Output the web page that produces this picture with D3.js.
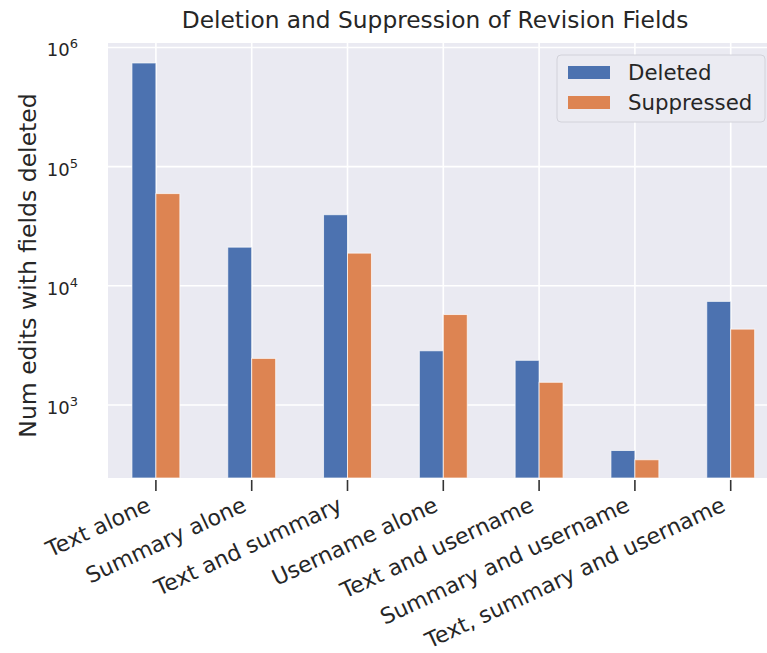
<!DOCTYPE html>
<html><head><meta charset="utf-8">
<script src="https://cdn.jsdelivr.net/npm/d3@7"></script>
<style>
body{margin:0;background:#fff;}
text{font-family:"DejaVu Sans",sans-serif;fill:#262626;}
</style></head>
<body><svg id="c" width="767" height="653"></svg>
<script>
const categories = ["Text alone","Summary alone","Text and summary","Username alone","Text and username","Summary and username","Text, summary and username"];
const seriesNames = ["Deleted","Suppressed"];
const deleted = [741000, 21100, 39500, 2850, 2370, 415, 7400];
const suppressed = [59400, 2460, 18800, 5740, 1550, 347, 4330];
const yTickValues = [1e3, 1e4, 1e5, 1e6];
const yTickExps = ["3","4","5","6"];
const title = "Deletion and Suppression of Revision Fields";
const yLabel = "Num edits with fields deleted";
const colors = ["#4c72b0","#dd8452"];

const svg = d3.select("#c");
const L = 108, R = 778.6, T = 43, B = 478;
const x = d3.scaleBand().domain(categories).range([L, R]).paddingInner(0.5).paddingOuter(0.25);
const xs = d3.scaleBand().domain(seriesNames).range([0, x.bandwidth()]);
const y = d3.scaleLog().domain([244, 1.09e6]).range([B, T]);

svg.append("rect").attr("x", L).attr("y", T).attr("width", R - L).attr("height", B - T).attr("fill", "#eaeaf2");

// grid
svg.append("g").selectAll("line").data(yTickValues).join("line")
  .attr("x1", L).attr("x2", R).attr("y1", d => y(d)).attr("y2", d => y(d))
  .attr("stroke", "#fff").attr("stroke-width", 1.6);
svg.append("g").selectAll("line").data(categories).join("line")
  .attr("x1", d => x(d) + x.bandwidth() / 2).attr("x2", d => x(d) + x.bandwidth() / 2)
  .attr("y1", T).attr("y2", B).attr("stroke", "#fff").attr("stroke-width", 1.6);

// bars
const series = [deleted, suppressed];
series.forEach((vals, si) => {
  svg.append("g").selectAll("rect").data(vals).join("rect")
    .attr("x", (d, i) => x(categories[i]) + xs(seriesNames[si]))
    .attr("width", xs.bandwidth())
    .attr("y", d => y(d))
    .attr("height", d => B - y(d))
    .attr("fill", colors[si])
    .attr("stroke", "#fff").attr("stroke-opacity", 0.7).attr("stroke-width", 1);
});

// x axis ticks & labels
const xa = svg.append("g");
xa.selectAll("line").data(categories).join("line")
  .attr("x1", d => x(d) + x.bandwidth() / 2).attr("x2", d => x(d) + x.bandwidth() / 2)
  .attr("y1", B + 2).attr("y2", B + 13).attr("stroke", "#333").attr("stroke-width", 1.6);
xa.selectAll("text").data(categories).join("text")
  .attr("transform", d => `translate(${x(d) + x.bandwidth() / 2 - 11},${B + 17}) rotate(-25)`)
  .attr("text-anchor", "end").attr("dy", "0.76em")
  .style("font-size", "22px").text(d => d);

// y tick labels
const ya = svg.append("g");
yTickValues.forEach((v, i) => {
  const t = ya.append("text").attr("x", 78).attr("y", y(v) + 9).attr("text-anchor", "end").style("font-size", "18px");
  t.append("tspan").text("10");
  t.append("tspan").attr("dy", -8).style("font-size", "13px").text(yTickExps[i]);
});

// title
svg.append("text").attr("x", 435).attr("y", 28).attr("text-anchor", "middle").style("font-size", "23.3px").text(title);
// y label
svg.append("text").attr("transform", `translate(36,${(T + B) / 2 + 5}) rotate(-90)`).attr("text-anchor", "middle").style("font-size", "23.5px").text(yLabel);

// legend
const lg = svg.append("g");
lg.append("rect").attr("x", 557).attr("y", 55).attr("width", 208).attr("height", 67).attr("rx", 4)
  .attr("fill", "#ebebf2").attr("stroke", "#d2d2da").attr("stroke-width", 1);
seriesNames.forEach((s, i) => {
  lg.append("rect").attr("x", 568).attr("y", 66 + i * 30).attr("width", 42).attr("height", 13).attr("fill", colors[i]);
  lg.append("text").attr("x", 628).attr("y", 72.5 + i * 30).attr("dy", "0.36em").style("font-size", "21.3px").text(s);
});
</script></body></html>
